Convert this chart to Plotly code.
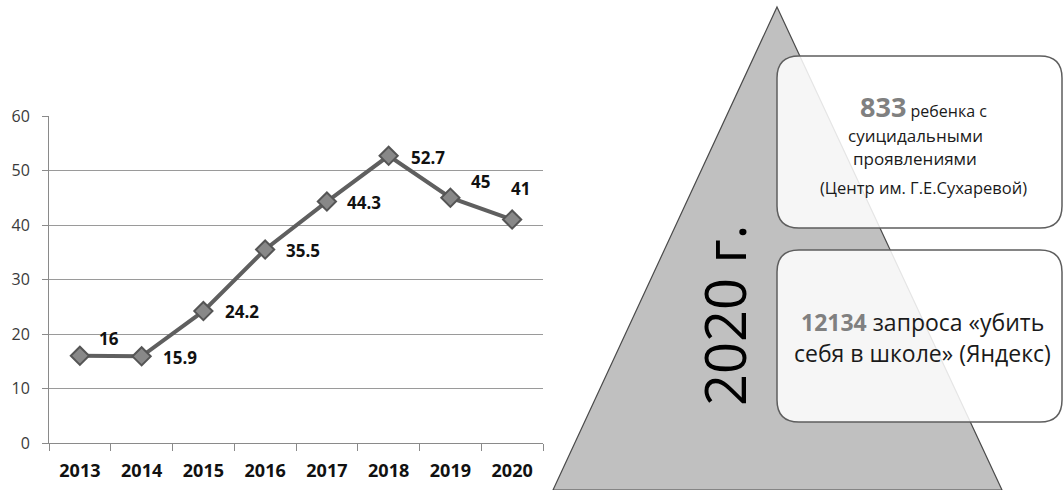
import plotly.graph_objects as go

W, H = 1063, 490

# Line chart data
years = ["2013", "2014", "2015", "2016", "2017", "2018", "2019", "2020"]
values = [16, 15.9, 24.2, 35.5, 44.3, 52.7, 45, 41]
y_ticks = [0, 10, 20, 30, 40, 50, 60]

# Data label placement (xanchor, xshift px, yshift px) for each point
label_place = [("center", 29, 17), ("left", 19, -1), ("left", 20, 0), ("left", 19, -1),
               ("left", 18, -1), ("left", 20, -2), ("center", 30, 16), ("center", 8, 31)]

# Right-hand panel texts
panel_year = "2020 г."
box1_number = "833"
box1_lines = ["ребенка с", "суицидальными", "проявлениями", "(Центр им. Г.Е.Сухаревой)"]
box2_number = "12134"
box2_lines = ["запроса «убить", "себя в школе» (Яндекс)"]


def px(x):
    return x / W


def py(y):
    return 1 - y / H


def pt(x, y):
    return f"{px(x):.5f},{py(y):.5f}"


def rounded_rect(x0, y0, x1, y1, r):
    return ("M" + pt(x0 + r, y0) + " L" + pt(x1 - r, y0) + " Q" + pt(x1, y0) + " " + pt(x1, y0 + r)
            + " L" + pt(x1, y1 - r) + " Q" + pt(x1, y1) + " " + pt(x1 - r, y1)
            + " L" + pt(x0 + r, y1) + " Q" + pt(x0, y1) + " " + pt(x0, y1 - r)
            + " L" + pt(x0, y0 + r) + " Q" + pt(x0, y0) + " " + pt(x0 + r, y0) + " Z")


FONT = "Open Sans"

fig = go.Figure()
fig.add_trace(go.Scatter(
    x=years, y=values, mode="lines+markers",
    line=dict(color="#5f5f5f", width=4),
    marker=dict(symbol="diamond", size=14, color="#888888", line=dict(color="#555555", width=2)),
    hoverinfo="skip", showlegend=False,
))

annotations = []
for i, (v, (anc, dx, dy)) in enumerate(zip(values, label_place)):
    annotations.append(dict(
        x=i, y=v, xref="x", yref="y", text=f"<b>{v:g}</b>", showarrow=False,
        xanchor=anc, yanchor="middle", xshift=dx, yshift=dy,
        font=dict(family=FONT, size=17, color="#111111"),
    ))

shapes = []
# Triangle
shapes.append(dict(
    type="path", xref="paper", yref="paper", layer="below",
    path="M" + pt(777, 7) + " L" + pt(1002, 490) + " L" + pt(553, 490) + " Z",
    fillcolor="#c0c0c0", line=dict(color="#4a4a4a", width=1.2),
))
# Two rounded boxes
for (y0, y1) in [(56, 228), (250, 422)]:
    shapes.append(dict(
        type="path", xref="paper", yref="paper", layer="above",
        path=rounded_rect(777, y0, 1062, y1, 22),
        fillcolor="rgba(255,255,255,0.86)", line=dict(color="#5e5e5e", width=1.5),
    ))

# Vertical year label
annotations.append(dict(
    x=px(724), y=py(316), xref="paper", yref="paper", text=panel_year, textangle=-90,
    showarrow=False, xanchor="center", yanchor="middle",
    font=dict(family=FONT, size=56, color="#000000"),
))

# Box 1 text
annotations.append(dict(
    x=px(923), y=py(106), xref="paper", yref="paper",
    text=f"<b><span style='font-size:27px;color:#808080'>{box1_number}</span></b> {box1_lines[0]}",
    showarrow=False, xanchor="center", yanchor="middle",
    font=dict(family=FONT, size=16, color="#1a1a1a"),
))
for line, yy in zip(box1_lines[1:], [135, 158]):
    annotations.append(dict(
        x=px(915), y=py(yy), xref="paper", yref="paper", text=line,
        showarrow=False, xanchor="center", yanchor="middle",
        font=dict(family=FONT, size=17, color="#1a1a1a"),
    ))
annotations.append(dict(
    x=px(923), y=py(188), xref="paper", yref="paper", text=box1_lines[3],
    showarrow=False, xanchor="center", yanchor="middle",
    font=dict(family=FONT, size=16.5, color="#1a1a1a"),
))

# Box 2 text
annotations.append(dict(
    x=px(922), y=py(322), xref="paper", yref="paper",
    text=f"<b><span style='color:#808080'>{box2_number}</span></b> {box2_lines[0]}",
    showarrow=False, xanchor="center", yanchor="middle",
    font=dict(family=FONT, size=23, color="#1a1a1a"),
))
annotations.append(dict(
    x=px(922), y=py(353), xref="paper", yref="paper", text=box2_lines[1],
    showarrow=False, xanchor="center", yanchor="middle",
    font=dict(family=FONT, size=23, color="#1a1a1a"),
))

fig.update_layout(
    width=W, height=H, margin=dict(l=0, r=0, t=0, b=0),
    paper_bgcolor="white", plot_bgcolor="white",
    shapes=shapes, annotations=annotations,
    xaxis=dict(
        domain=[px(49), px(543)], type="category", range=[-0.5, 7.5],
        showline=True, linecolor="#8a8a8a", linewidth=1,
        ticks="outside", ticklen=7, tickcolor="#8a8a8a", tickson="boundaries",
        showgrid=False, automargin=False, ticklabelstandoff=11,
        tickfont=dict(family=FONT, size=18, color="#111111", weight="bold"),
        fixedrange=True,
    ),
    yaxis=dict(
        domain=[py(443), py(116)], range=[0, 60], tickvals=y_ticks,
        showline=True, linecolor="#8a8a8a", linewidth=1,
        ticks="outside", ticklen=6, tickcolor="#8a8a8a",
        showgrid=True, gridcolor="#9a9a9a", gridwidth=1, zeroline=False,
        automargin=False, ticklabelstandoff=9,
        tickfont=dict(family=FONT, size=16, color="#3a3a3a"),
        fixedrange=True,
    ),
)

fig.write_html("out.html")
